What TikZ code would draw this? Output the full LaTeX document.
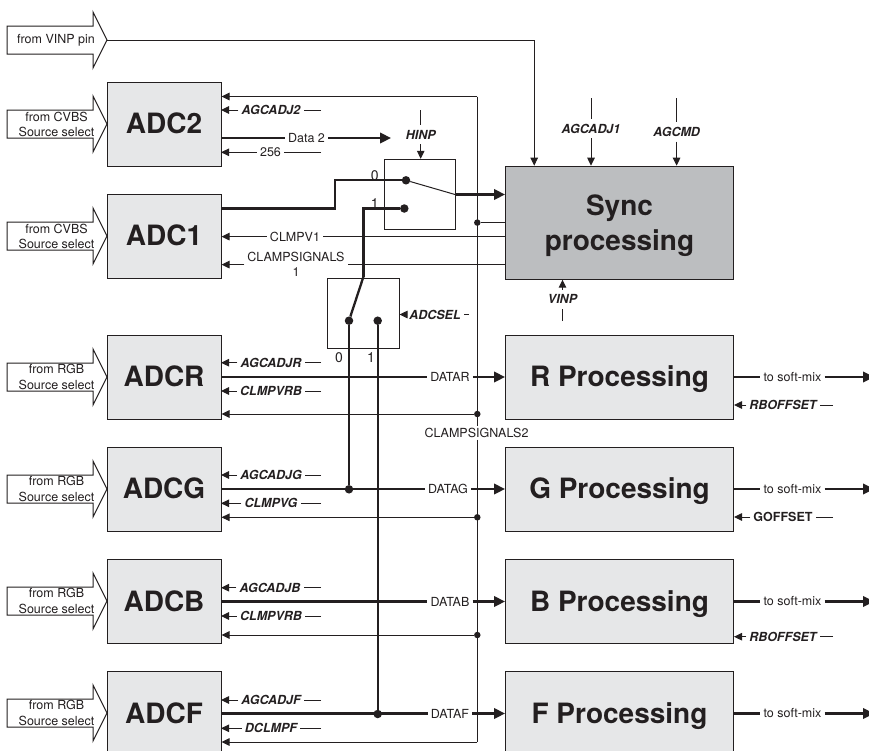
\documentclass[tikz,border=0pt]{standalone}
\usepackage{fontspec}
\setmainfont{TeX Gyre Heros}
\usetikzlibrary{arrows.meta}
\definecolor{ink}{HTML}{231F20}
\definecolor{boxgray}{HTML}{E6E7E8}
\definecolor{syncgray}{HTML}{BCBEC0}
\tikzset{
  blockbox/.style={draw=ink,line width=1pt,fill=boxgray,text=ink,minimum width=114pt,minimum height=84pt,inner sep=0pt,align=center,text height=19pt,text depth=0pt,font=\fontsize{28}{35}\selectfont\bfseries},
  procbox/.style={blockbox,minimum width=228pt},
  syncbox/.style={draw=ink,line width=1pt,fill=syncgray,text=ink,minimum width=228pt,minimum height=113pt,inner sep=0pt,align=center,font=\fontsize{28}{35}\selectfont\bfseries},
  switchbox/.style={draw=ink,line width=1pt,minimum width=71.5pt,minimum height=70pt,inner sep=0pt},
  inarrow/.style={draw=ink,line width=1pt,fill=white},
  lab/.style={text=ink,inner xsep=3pt,inner ysep=2pt,align=center,font=\fontsize{12.5}{15}\selectfont},
  digit/.style={lab,font=\fontsize{14}{16}\selectfont},
  ctl/.style={lab,inner ysep=5pt,font=\fontsize{12.5}{15}\selectfont\bfseries\itshape},
  ctlb/.style={lab,font=\fontsize{12.5}{15}\selectfont\bfseries},
  wire/.style={draw=ink,line width=1pt},
  bus/.style={draw=ink,line width=2.3pt},
  tip/.style={wire,-{Triangle[length=8pt,width=7.5pt]}},
  bigtip/.style={bus,-{Triangle[length=11pt,width=10.5pt]}},
  jdot/.style={circle,fill=ink,minimum size=6.5pt,inner sep=0pt},
  pdot/.style={circle,fill=ink,minimum size=8.5pt,inner sep=0pt},
}
\newcommand{\feedarrow}[4]{%
  \draw[inarrow] (7,#1-14) -- (93,#1-14) -- (93,#1-28) -- (107,#1) -- (93,#1+28) -- (93,#1+14) -- (7,#1+14) -- cycle;
  \coordinate (#2tip) at (107,#1);
  \node[lab,inner sep=0pt] (#2) at (#4,#1) {#3};}
\begin{document}
\begin{tikzpicture}[x=1pt,y=-1pt]
\useasboundingbox (0,0) rectangle (869,750);
\clip (0,0) rectangle (869,750);
% input arrows
\feedarrow{40}{inVinp}{from VINP pin}{56}
\feedarrow{124}{inA}{from CVBS\\[0pt]Source select}{56.5}
\feedarrow{236}{inB}{from CVBS\\[0pt]Source select}{56.5}
\feedarrow{377}{inC}{from RGB\\[1pt]Source select}{56.5}
\feedarrow{489}{inD}{from RGB\\[1pt]Source select}{56.5}
\feedarrow{601}{inE}{from RGB\\[1pt]Source select}{56.5}
\feedarrow{713}{inF}{from RGB\\[1pt]Source select}{56.5}
% blocks
\node[blockbox] (adcb2) at (164,124) {ADC2};
\node[blockbox] (adcb1) at (164,236) {ADC1};
\node[blockbox] (adcr) at (164,377) {ADCR};
\node[blockbox] (adcg) at (164,489) {ADCG};
\node[blockbox] (adcbb) at (164,601.5) {ADCB};
\node[blockbox] (adcf) at (164,713.5) {ADCF};
\node[syncbox] (sync) at (619.5,222.7) {\rule{0pt}{26pt}Sync\\processing};
\node[procbox] (pr) at (619.5,377) {R Processing};
\node[procbox] (pg) at (619.5,489) {G Processing};
\node[procbox] (pb) at (619.5,601.5) {B Processing};
\node[procbox] (pf) at (619.5,713.5) {F Processing};
% switches
\node[switchbox] (sw1) at (420.2,194.3) {};
\node[switchbox] (sw2) at (363.3,313.7) {};
% clamp bus
\coordinate (busTop) at (477.3,96.5);
\coordinate (busBot) at (477.3,742);
\node[lab,fill=white] (clamp2) at (476.5,432.7) {CLAMPSIGNALS2};
\draw[wire] (busTop) -- (clamp2.north -| busTop);
\draw[wire] (clamp2.south -| busTop) -- (busBot);
\draw[tip] (busTop) -- (adcb2.east |- busTop);
\draw[tip] (busBot) -- (adcf.east |- busBot);
\node[jdot] (jsync) at (477.3,222.6) {};
\node[jdot] (jr) at (477.3,414) {};
\node[jdot] (jg) at (477.3,517.3) {};
\node[jdot] (jb) at (477.3,635) {};
\draw[wire] (jsync) -- (sync.west |- jsync);
\draw[tip] (jr) -- (adcr.east |- jr);
\draw[tip] (jg) -- (adcg.east |- jg);
\draw[tip] (jb) -- (adcbb.east |- jb);
% VINP pin
\coordinate (pinCorner) at (534.2,40);
\draw[wire] (inVinptip) -- (pinCorner);
\draw[tip] (pinCorner) -- (sync.north -| pinCorner);
% ADC control inputs
\foreach \nm/\txt/\y/\sty/\cx in {
  c1/AGCADJ2/110/ctl/271, c2/256/152.3/lab/270.5,
  c3/AGCADJR/362.7/ctl/271, c4/CLMPVRB/391/ctl/271,
  c5/AGCADJG/475/ctl/271, c6/CLMPVG/503.3/ctl/271,
  c7/AGCADJB/587.7/ctl/270, c8/CLMPVRB/616/ctl/271,
  c9/AGCADJF/700/ctl/271, c10/DCLMPF/728.3/ctl/271}{
  \node[\sty] (\nm) at (\cx,\y) {\txt};
  \coordinate (\nm e) at (321,\y);
  \draw[wire] (\nm e) -- (\nm);
  \draw[tip] (\nm) -- (221,\y);
}
% ADC1 long inputs
\node[lab] (clmpv) at (295,236.6) {CLMPV1};
\draw[wire] (sync.west |- clmpv) -- (clmpv);
\draw[tip] (clmpv) -- (adcb1.east |- clmpv);
\coordinate (cs) at (296,264.6);
\node[lab,inner sep=0pt,minimum width=103pt] (clampsig) at (296,264) {CLAMPSIGNALS\\1};
\draw[wire] (sync.west |- cs) -- (clampsig.east |- cs);
\draw[tip] (clampsig.west |- cs) -- (adcb1.east |- cs);
% Data 2
\node[lab] (data2) at (306.5,138) {Data 2};
\coordinate (data2end) at (391,138);
\draw[bus] (adcb2.east |- data2) -- (data2);
\draw[bigtip] (data2) -- (data2end);
% switch 1 wiring
\node[pdot] (s1a) at (406,180.3) {};
\node[pdot] (s1b) at (404.3,208.5) {};
\coordinate (adc1out) at (221,208.5);
\coordinate (step1) at (335,208.5);
\coordinate (step2) at (335,180.3);
\draw[bus] (adc1out) -- (step1) -- (step2) -- (s1a);
\coordinate (armEnd) at (455,194.5);
\draw[wire] (s1a) -- (armEnd);
\draw[bigtip] (armEnd) -- (sync.west |- armEnd);
\node[digit] (lab0a) at (374.7,176) {0};
\node[digit] (lab1a) at (374.7,204) {1};
\coordinate (s2top) at (363.5,276.5);
\coordinate (s1corner) at (363.5,208.5);
\draw[bus] (s1b) -- (s1corner) -- (s2top);
% switch 2 wiring
\node[pdot] (s2a) at (349,320.7) {};
\node[pdot] (s2b) at (377.7,320.7) {};
\draw[bus] (s2top) -- (s2a);
\node[digit] (lab0b) at (339,357.7) {0};
\node[digit] (lab1b) at (371,357.7) {1};
\node[ctl] (adcsel) at (435,314.5) {ADCSEL};
\coordinate (adcselEnd) at (469,314.5);
\draw[wire] (adcselEnd) -- (adcsel);
\draw[tip] (adcsel) -- (sw2.east |- adcsel);
% top and bottom controls
\node[ctl] (hinp) at (420.7,134.5) {HINP};
\coordinate (hinpTop) at (420.7,110);
\draw[wire] (hinpTop) -- (hinp);
\draw[tip] (hinp) -- (sw1.north -| hinp);
\node[ctl] (agc1) at (591,128.5) {AGCADJ1};
\coordinate (agc1Top) at (591,98);
\draw[wire] (agc1Top) -- (agc1);
\draw[tip] (agc1) -- (sync.north -| agc1);
\node[ctl] (agcmd) at (676.6,131.7) {AGCMD};
\coordinate (agcmdTop) at (676.6,98);
\draw[wire] (agcmdTop) -- (agcmd);
\draw[tip] (agcmd) -- (sync.north -| agcmd);
\node[ctl] (vinp) at (562.5,299.3) {VINP};
\coordinate (vinpBot) at (562.5,321);
\draw[wire] (vinpBot) -- (vinp);
\draw[tip] (vinp) -- (sync.south -| vinp);
% data lines
\node[pdot] (jdg) at (349,489.3) {};
\node[pdot] (jdf) at (377.7,714) {};
\draw[bus] (s2a) -- (jdg);
\draw[bus] (s2b) -- (jdf);
\foreach \nm/\txt/\src/\dst/\cx in {
  dr/DATAR/adcr/pr/450, dg/DATAG/adcg/pg/448,
  db/DATAB/adcbb/pb/450, df/DATAF/adcf/pf/450}{
  \node[lab] (\nm) at (\cx,0 |- \src.east) {\txt};
  \draw[bus] (\src.east) -- (\nm);
  \draw[bigtip] (\nm) -- (\dst.west);
}
% outputs
\foreach \nm/\src in {oa/pr,ob/pg,oc/pb,od/pf}{
  \node[lab] (\nm) at (792.5,0 |- \src.east) {to soft-mix};
  \coordinate (\nm e) at (874,0 |- \src.east);
  \draw[bus] (\src.east) -- (\nm);
  \draw[bigtip] (\nm) -- (\nm e);
}
% offsets
\foreach \nm/\txt/\y/\sty/\src in {
  o1/RBOFFSET/405/ctl/pr, o2/GOFFSET/517/ctlb/pg, o3/RBOFFSET/636.7/ctl/pb}{
  \node[\sty] (\nm) at (783,\y) {\txt};
  \coordinate (\nm e) at (833,\y);
  \draw[wire] (\nm e) -- (\nm);
  \draw[tip] (\nm) -- (\src.east |- \nm);
}
\end{tikzpicture}
\end{document}
